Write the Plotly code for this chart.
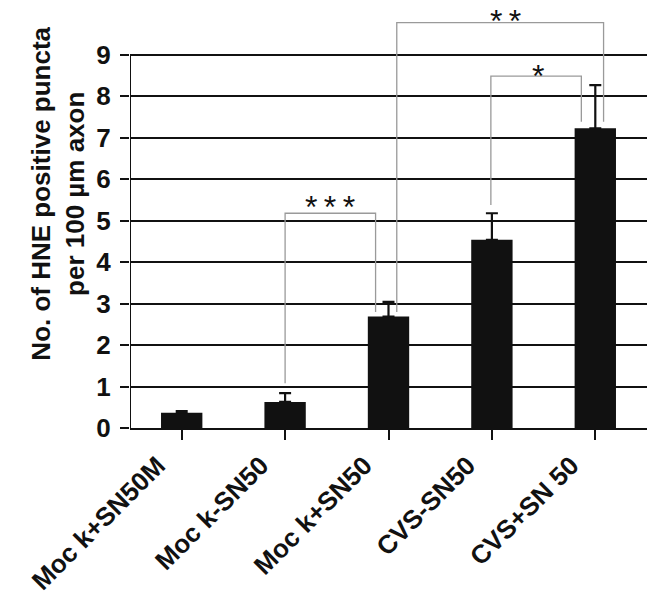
import plotly.graph_objects as go

categories = ["Mock+SN50M", "Mock-SN50", "Mock+SN50", "CVS-SN50", "CVS+SN 50"]
tick_labels = ["Moc k+SN50M", "Moc k-SN50", "Moc k+SN50", "CVS-SN50", "CVS+SN 50"]
values = [0.37, 0.63, 2.69, 4.54, 7.23]
errors = [0.04, 0.21, 0.35, 0.64, 1.04]
y_title = "No. of HNE positive puncta<br>per 100 µm axon"

# significance brackets: (x_left, y_left_bottom, x_right, y_right_bottom, y_top)
brackets = [
    (1.0, 1.08, 1.875, 2.80, 5.18),
    (2.08, 2.80, 4.08, 7.39, 9.78),
    (2.99, 5.38, 3.865, 7.39, 8.49),
]
# significance labels: (text, x, y, anchor)
sig_labels = [
    ("*\u2009*\u2009*", 1.43, 5.32, "middle"),
    ("*\u2009*", 3.13, 10.3, "top"),
    ("*", 3.45, 8.49, "middle"),
]

fig = go.Figure()
fig.add_trace(go.Bar(
    x=list(range(len(categories))), y=values,
    width=0.4, marker=dict(color="#111111", line=dict(width=0)),
    error_y=dict(type="data", array=errors, arrayminus=[0]*5, symmetric=False,
                 color="#111111", thickness=2.2, width=6),
))

for (xl, yl, xr, yr, yt) in brackets:
    fig.add_trace(go.Scatter(
        x=[xl, xl, xr, xr], y=[yl, yt, yt, yr], mode="lines",
        line=dict(color="#9a9a9a", width=1.3), hoverinfo="skip", cliponaxis=False,
    ))
for (lab, lx, ly, anc) in sig_labels:
    fig.add_annotation(x=lx, y=ly, text=lab, showarrow=False,
                       font=dict(size=32, color="#111", family="Liberation Sans"),
                       xanchor="center", yanchor=anc)

# y-axis title as rotated annotation
fig.add_annotation(xref="paper", yref="paper", x=-0.1383, y=0.55, text=y_title,
                   textangle=-90, showarrow=False, xanchor="center", yanchor="middle",
                   font=dict(size=26, family="Liberation Sans", weight="bold", color="#111"))

# y-axis line from 0 to 9 only
fig.add_shape(type="line", x0=-0.5, x1=-0.5, y0=0, y1=9, xref="x", yref="y",
              line=dict(color="#111", width=2))

fig.update_layout(
    width=650, height=609,
    margin=dict(l=130, r=3, t=1, b=181),
    plot_bgcolor="white", paper_bgcolor="white",
    showlegend=False,
    font=dict(family="Liberation Sans, Arial, sans-serif", color="#111"),
)
fig.update_xaxes(
    range=[-0.5, 4.5], automargin=False,
    tickmode="array", tickvals=list(range(5)), ticktext=tick_labels,
    tickangle=-45, tickfont=dict(size=26, family="Liberation Sans", weight="bold"),
    ticks="outside", tickson="boundaries", ticklen=10, tickwidth=2, tickcolor="#111",
    ticklabelshift=-24,
    showline=True, linecolor="#111", linewidth=2, showgrid=False, zeroline=False,
)
fig.update_yaxes(
    range=[0, 10.3], automargin=False,
    tickmode="array", tickvals=list(range(10)),
    tickfont=dict(size=26, family="Liberation Sans", weight="bold"),
    ticks="outside", ticklen=9, tickwidth=2, tickcolor="#111",
    ticklabelstandoff=4,
    showgrid=True, gridcolor="#111", gridwidth=2,
    showline=False, zeroline=False,
)

fig.write_html("out.html", config={"displayModeBar": False},
               post_script="document.body.style.margin='0';")
